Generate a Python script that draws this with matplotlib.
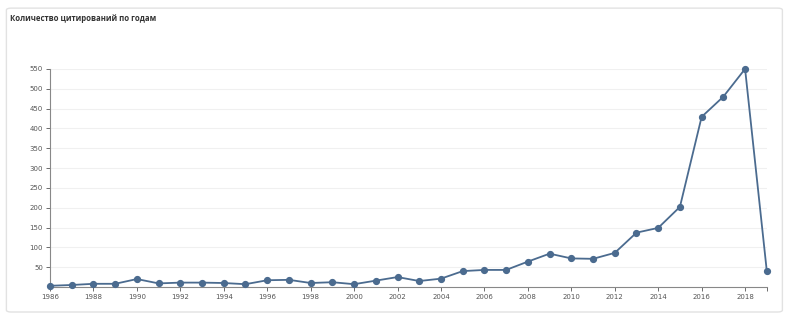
import matplotlib.pyplot as plt
from matplotlib.patches import FancyBboxPatch

years = list(range(1986, 2020))
citations = [3, 5, 8, 8, 20, 9, 11, 11, 10, 7, 17, 18, 10, 12, 7, 16, 25, 15, 21, 40,
             43, 43, 64, 84, 72, 71, 86, 137, 149, 202, 429, 480, 550, 40]
yticks = list(range(50, 551, 50))
xticks = list(range(1986, 2019, 2))

fig = plt.figure(figsize=(8, 3.25), dpi=100)

# card background
card = FancyBboxPatch((0.008, 0.04), 0.97, 0.935, boxstyle="round,pad=0,rounding_size=0.006",
                      transform=fig.transFigure, facecolor='white', edgecolor='#e2e2e2',
                      linewidth=1.0, zorder=-10)
fig.patches.append(card)

fig.text(0.012, 0.943, 'Количество цитирований по годам', fontsize=5.6, color='#333333',
         fontweight='bold', family='Open Sans', va='center')

ax = fig.add_axes([0.0625, 0.117, 0.896, 0.671])
ax.patch.set_alpha(0)
ax.plot(years, citations, color='#4b6b8f', linewidth=1.3, marker='o', markersize=4.2,
        clip_on=False, zorder=3)

ax.set_xlim(1986, 2019)
ax.set_ylim(0, 550)
ax.set_yticks(yticks)
ax.set_xticks(xticks + [2019])
ax.set_xticklabels([str(x) for x in xticks] + [''])
ax.grid(axis='y', color='#f0f0f0', linewidth=0.8)
ax.set_axisbelow(True)
for s in ['top', 'right']:
    ax.spines[s].set_visible(False)
for s in ['left', 'bottom']:
    ax.spines[s].set_color('#888888')
    ax.spines[s].set_linewidth(0.8)
ax.tick_params(axis='both', labelsize=5, colors='#555555', length=3, width=0.6, pad=2)

plt.savefig('out.png', dpi=100)
